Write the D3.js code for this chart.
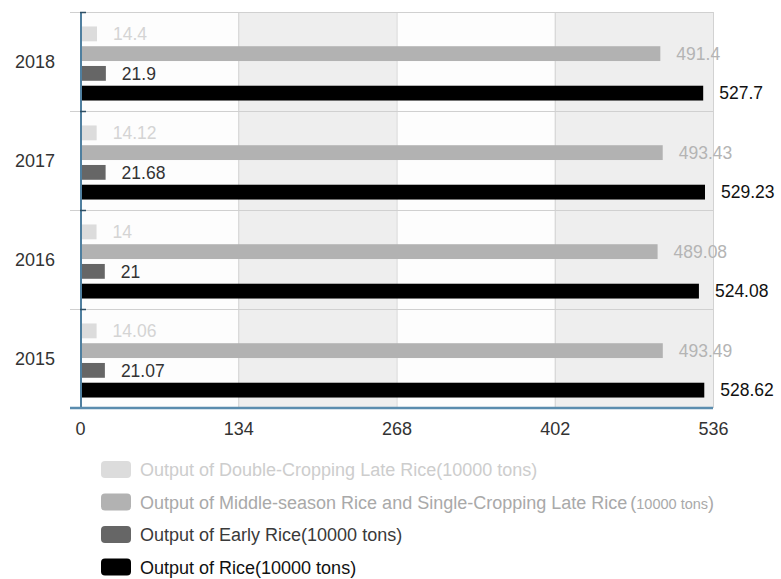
<!DOCTYPE html>
<html>
<head>
<meta charset="utf-8">
<script src="https://cdn.jsdelivr.net/npm/d3@7/dist/d3.min.js"></script>
<style>
  html, body { margin: 0; padding: 0; background: #ffffff; }
  svg { display: block; font-family: "Liberation Sans", Arial, sans-serif; }
</style>
</head>
<body>
<svg id="chart" width="781" height="579"></svg>
<script>
// Years shown top to bottom
const years = ["2018", "2017", "2016", "2015"];

// Series keys (drawn top to bottom inside each year band)
const seriesKeys = ["doubleLate", "middleSingle", "early", "total"];

// Output values, 10000 tons, in the order of `years`
const doubleLate   = [14.4, 14.12, 14, 14.06];
const middleSingle = [491.4, 493.43, 489.08, 493.49];
const early        = [21.9, 21.68, 21, 21.07];
const total        = [527.7, 529.23, 524.08, 528.62];

// Axis ticks
const xTicks = [0, 134, 268, 402, 536];

// Legend text
const legendNames = [
  "Output of Double-Cropping Late Rice",
  "Output of Middle-season Rice and Single-Cropping Late Rice",
  "Output of Early Rice",
  "Output of Rice"
];
const legendUnit = "10000 tons";

const seriesValues = { doubleLate, middleSingle, early, total };
const barColors   = { doubleLate: "#dcdcdc", middleSingle: "#b2b2b2", early: "#666666", total: "#000000" };
const labelColors = { doubleLate: "#d4d4d4", middleSingle: "#b4b4b4", early: "#333333", total: "#111111" };
const legendTextColors = ["#cdcdcd", "#a9a9a9", "#3a3a3a", "#111111"];

const svg = d3.select("#chart");

const x = d3.scaleLinear().domain([0, 536]).range([80, 713]);
const y = d3.scaleBand().domain(years).range([12, 408]).padding(0);
const inner = d3.scaleBand().domain(seriesKeys)
  .range([12, y.bandwidth() - 8]).paddingInner(0.25).paddingOuter(0.125);

// Alternating column shading between ticks
const cols = d3.pairs(xTicks);
svg.append("g").selectAll("rect").data(cols).join("rect")
  .attr("x", d => x(d[0]))
  .attr("y", y.range()[0])
  .attr("width", d => x(d[1]) - x(d[0]))
  .attr("height", y.range()[1] - y.range()[0])
  .attr("fill", (d, i) => i % 2 === 0 ? "#fdfdfd" : "#eeeeee");

// Vertical grid lines
svg.append("g").selectAll("line").data(xTicks.slice(1)).join("line")
  .attr("x1", d => x(d) + 0.5).attr("x2", d => x(d) + 0.5)
  .attr("y1", y.range()[0]).attr("y2", y.range()[1])
  .attr("stroke", "#d2d2d2").attr("stroke-width", 1);

// Horizontal lines at band boundaries
const boundaries = years.map(d => y(d));
svg.append("g").selectAll("line").data(boundaries).join("line")
  .attr("x1", 70).attr("x2", x(536))
  .attr("y1", d => d + 0.5).attr("y2", d => d + 0.5)
  .attr("stroke", "#d0d0d0").attr("stroke-width", 1);

// Bars
const groups = svg.append("g").selectAll("g").data(years).join("g")
  .attr("transform", d => `translate(0,${y(d)})`);

groups.each(function(year, yi) {
  const g = d3.select(this);
  seriesKeys.forEach(key => {
    const v = seriesValues[key][yi];
    g.append("rect")
      .attr("x", x(0))
      .attr("y", inner(key))
      .attr("width", x(v) - x(0))
      .attr("height", inner.bandwidth())
      .attr("fill", barColors[key]);
    g.append("text")
      .attr("x", x(v) + 16)
      .attr("y", inner(key) + inner.bandwidth() / 2)
      .attr("dy", "0.36em")
      .attr("font-size", 17.5)
      .attr("fill", labelColors[key])
      .text(v);
  });
});

// Left axis line with ticks at band boundaries
svg.append("line")
  .attr("x1", 81).attr("x2", 81)
  .attr("y1", y.range()[0]).attr("y2", y.range()[1])
  .attr("stroke", "#4f7f9f").attr("stroke-width", 2);
svg.append("g").selectAll("line").data(boundaries).join("line")
  .attr("x1", 80).attr("x2", 86)
  .attr("y1", d => d + 0.5).attr("y2", d => d + 0.5)
  .attr("stroke", "#2f4f64").attr("stroke-width", 1.5);

// Year labels
svg.append("g").selectAll("text").data(years).join("text")
  .attr("x", 55)
  .attr("y", d => y(d) + y.bandwidth() / 2)
  .attr("dy", "0.36em")
  .attr("text-anchor", "end")
  .attr("font-size", 18)
  .attr("fill", "#333333")
  .text(d => d);

// Bottom axis
const xAxis = d3.axisBottom(x).tickValues(xTicks).tickSize(0).tickPadding(14);
const gx = svg.append("g").attr("transform", `translate(0,${y.range()[1]})`).call(xAxis);
gx.select(".domain").remove();
gx.selectAll("text").attr("font-size", 18).attr("fill", "#333333")
  .attr("font-family", "'Liberation Sans', Arial, sans-serif");
svg.append("line")
  .attr("x1", 70).attr("x2", x(536))
  .attr("y1", y.range()[1]).attr("y2", y.range()[1])
  .attr("stroke", "#5a8cae").attr("stroke-width", 2.5);

// Legend
const legend = svg.append("g").selectAll("g").data(legendNames).join("g")
  .attr("transform", (d, i) => `translate(101,${470 + i * 32.5})`);
legend.append("rect")
  .attr("x", 0).attr("y", -9).attr("width", 30).attr("height", 17)
  .attr("rx", 4)
  .attr("fill", (d, i) => barColors[seriesKeys[i]]);
legend.each(function(name, i) {
  const t = d3.select(this).append("text")
    .attr("x", 39).attr("y", 0).attr("dy", "0.36em")
    .attr("font-size", 18)
    .attr("fill", legendTextColors[i]);
  t.append("tspan").text(name);
  if (i === 1) {
    t.append("tspan").attr("dx", 3).text("(");
    t.append("tspan").attr("font-size", 14.5).text(legendUnit);
    t.append("tspan").text(")");
  } else {
    t.append("tspan").text("(" + legendUnit + ")");
  }
});
</script>
</body>
</html>
